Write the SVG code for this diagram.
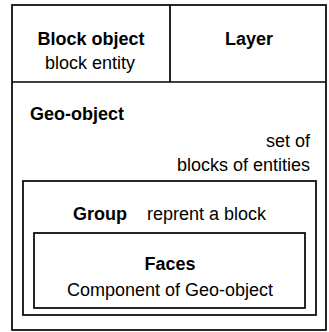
<svg xmlns="http://www.w3.org/2000/svg" width="329" height="332" viewBox="0 0 329 332">
<style>
.box{fill:none;stroke:#000;stroke-width:1.7}
text{font-family:"Liberation Sans",Arial,sans-serif;font-size:18px;fill:#000}
.b{font-weight:bold}
</style>
<rect width="329" height="332" fill="#fff"/>
<g id="outer"><rect class="box" x="12" y="5" width="314" height="325"/></g>
<g id="connectors"></g>
<g id="block-object">
<line class="box" x1="12" y1="82" x2="326" y2="82"/>
<line class="box" x1="170" y1="5" x2="170" y2="82"/>
<text class="b" x="91" y="45" text-anchor="middle">Block object</text>
<text x="90" y="69" text-anchor="middle">block entity</text>
</g>
<g id="layer"><text class="b" x="249" y="45" text-anchor="middle">Layer</text></g>
<g id="geo-object">
<text class="b" x="30" y="120">Geo-object</text>
<text x="310" y="147" text-anchor="end">set of</text>
<text x="310" y="171" text-anchor="end">blocks of entities</text>
</g>
<g id="group">
<rect class="box" x="23" y="181" width="293" height="134"/>
<text class="b" x="73" y="220">Group</text>
<text x="147" y="220">reprent a block</text>
</g>
<g id="faces">
<rect class="box" x="34" y="233" width="271" height="75"/>
<text class="b" x="170" y="270" text-anchor="middle">Faces</text>
<text x="170" y="296" text-anchor="middle">Component of Geo-object</text>
</g>
</svg>
